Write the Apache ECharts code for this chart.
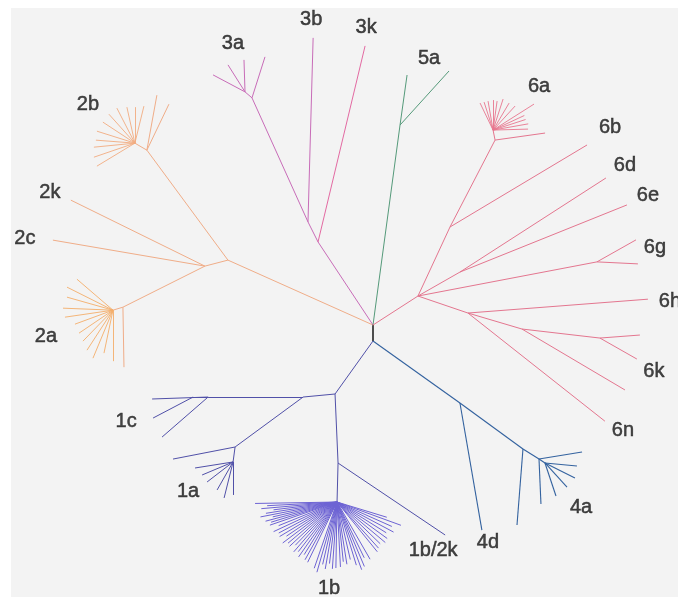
<!DOCTYPE html>
<html><head><meta charset="utf-8">
<script src="https://cdn.jsdelivr.net/npm/echarts@6/dist/echarts.min.js"></script>
<style>html,body{margin:0;padding:0;background:#fff}#c{width:678px;height:597px}</style>
</head><body><div id="c"></div>
<script>
// Unrooted tree. Each branch: [node, parent, branch length, direction in degrees (0 = east, 90 = north)]
const stem = [['T','B',16,90]];
const clade2 = [
 ['N2','T',158.9,155.9],['N2b','N2',136.6,126.4],['F2b','N2b',13.9,149.7],
 ['2b_u1','N2b',55.9,79.7],['2b_u2','N2b',51,64.4],
 ['N2ac','N2',23.8,194.6],['2k','N2ac',149.4,153.8],['2c','N2ac',154.2,170.3],
 ['N2a','N2ac',91.7,206.6],['F2a','N2a',10.4,196.7],['2a_v','N2a',60,271]
];
const fan2b = [
 ['2b_f1','F2b',38.1,76.3],['2b_f2','F2b',36,90],['2b_f3','F2b',36.9,102.5],['2b_f4','F2b',39.4,117.2],
 ['2b_f5','F2b',38.9,131.9],['2b_f6','F2b',38.3,146.7],['2b_f7','F2b',39.8,162.5],['2b_f8','F2b',39.1,175.6],
 ['2b_f9','F2b',41.2,185.6],['2b_f10','F2b',43.3,198.9],['2b_f11','F2b',44.4,211.2]
];
const fan2a = [
 ['2a_f1','F2a',47.5,139.3],['2a_f2','F2a',51.4,153.4],['2a_f3','F2a',47.8,164.2],['2a_f4','F2a',50,177.7],
 ['2a_f5','F2a',48.5,188.3],['2a_f6','F2a',40.5,200.2],['2a_f7','F2a',41,214.1],['2a_f8','F2a',43.1,225.9],
 ['2a_f9','F2a',47.7,237],['2a_f10','F2a',52,247.4],['2a_f11','F2a',43.9,258.2],['2a_f12','F2a',51,270]
];
const clade3 = [
 ['N3','T',99.6,123.5],['N3ab','N3',22.4,116.6],['3b','N3ab',184.1,88.4],
 ['N3a','N3ab',136.1,114.3],['3a_1','N3a',43,72.4],['N3a2','N3a',9.2,139.4],
 ['3a_2','N3a2',36.2,152],['3a_3','N3a2',31.9,122.2],['3a_4','N3a2',32,91.8]
];
const branch3k = [['3k','N3',201.6,76.5]];
const clade5 = [['N5','T',201.8,82.3],['5a_1','N5',50.5,82],['5a_2','N5',72.9,47.8]];
const clade6 = [
 ['N6','T',53.5,32.8],['N6ab','N6',76.1,65.1],['6b','N6ab',159.7,30.9],
 ['N6a','N6ab',97.9,62.6],['6a_1','N6a',50.5,8],['F6a','N6a',10.2,101.3],
 ['N6de','N6',48.4,29.7],['6d','N6de',173.6,32.8],['6e','N6de',179.9,21.9],
 ['N6g','N6',182.2,10.8],['6g_1','N6g',44.8,29.4],['6g_2','N6g',41,357.2],
 ['N6h','N6',52.8,341.2],['6h','N6h',180.5,4.4],['N6kx','N6h',56.3,343.5],
 ['N6k','N6kx',78.5,353.4],['6k_1','N6k',40.1,4.3],['6k_2','N6k',42.5,330.4],
 ['6k_3','N6kx',119.7,329.4],['6n','N6h',174.5,321.7]
];
const fan6a = [
 ['6a_f1','F6a',30,115.7],['6a_f2','F6a',29.4,107.8],['6a_f3','F6a',29.4,99.8],['6a_f4','F6a',30,90],
 ['6a_f5','F6a',29.3,82.1],['6a_f6','F6a',32.6,72.1],['6a_f7','F6a',31.4,59.3],['6a_f8','F6a',32.6,47.5],
 ['6a_f9','F6a',48.5,32.4],['6a_f10','F6a',34.5,25],['6a_f11','F6a',34.2,18],['6a_f12','F6a',35.7,10],
 ['6a_f13','F6a',35,1.6]
];
const clade1 = [
 ['N1','B',65.2,234.4],['N1ca','N1',32.1,185.4],['N1c','N1ca',95,180],
 ['1c_1','N1c',56,182],['1c_2','N1c',61,221],['N1c2','N1c',15,180],['1c_3','N1c2',45.2,207.7],
 ['N1a','N1ca',84.4,216.3],['1a_1','N1a',63.2,191],['F1a','N1a',15.1,262.4],['1a_v','F1a',33,270],
 ['1a_f1','F1a',38.5,189],['1a_f2','F1a',33.6,202.8],['1a_f3','F1a',32.8,217.6],
 ['1a_f4','F1a',32.2,240.3],['1a_f5','F1a',37.1,256],
 ['N1b','N1',69.1,272.5],['1b2k','N1b',129,326.1],['F1b','N1b',39,268.5]
];
// 1b fan: [branch length, direction]
const fan1b = [
 [82,181],[70,183],[76,185],[64,187],[72,189],[78,191],[66,193],[74,195],[69,197],[71,199],
 [63,202],[70,205],[66,208],[67,211],[61,214],[68,217],[64,220],[65,223],[60,226],[66,229],
 [63,232],[67,235],[62,238],[66,241],[67,244],[70,251],[73,254],[64,257],[68,260],[62,263],
 [67,266],[66,269],[65,273],[60,276],[63,279],[59,283],[66,287],[72,290],[70,293],[62,296],
 [66,300],[64,309],[62,312],[60,316],[63,320],[62,324],[58,328],[64,332],[60,336],[68,340],[52,343]
];
const clade4 = [
 ['N4d','B',106.8,324.5],['4d','N4d',128.9,279.8],['N4x','N4d',78,323.9],['4x_1','N4x',76.2,265.5],
 ['N4a','N4x',18.9,328],['4a_1','N4a',43.6,9.2],['4a_2','N4a',45,272.5],['F4a','N4a',7.2,326.3],
 ['4a_f1','F4a',32.1,354.6],['4a_f2','F4a',33.5,333.4],['4a_f3','F4a',32.6,312.5],['4a_f4','F4a',34.8,288.4]
];
const labelTexts   = ['3b','3k','3a','5a','2b','6a','6b','6d','6e','2k','2c','6g','6h','2a','6k','1c','6n','1a','4a','1b/2k','4d','1b'];
const labelAnchors = ['3b','3k','N3a','5a_2','N2b','N6a','6b','6d','6e','2k','2c','N6g','6h','N2a','N6k','N1c','6n','F1a','N4a','1b2k','4d','F1b'];

// ---- layout / style (not data) ----
const rootPos = [373, 341];
const labelOffsets = {
 '3b':[-2,-18],'3k':[1,-18],'3a':[-19,-54],'5a':[-20,-13],'2b':[-59,-46],'6a':[44,-54],'6b':[23,-17],
 '6d':[19,-13],'6e':[21,-9],'2k':[-21,-8],'2c':[-28,-2],'6g':[58,-14],'6h':[22,2],'2a':[-77,29],
 '6k':[54,33],'1c':[-82,24],'6n':[18,9],'1a':[-45,30],'4a':[42,48],'1b/2k':[-12,15],'4d':[6,12],'1b':[-8,86]
};
const groups = [
 [stem,'#222222',1.6],[clade2,'#f0ad88',1],[fan2b,'#f2ac80',0.9],[fan2a,'#f4ae6a',0.9],
 [clade3,'#c86cb8',1],[branch3k,'#e36aa2',1],[clade5,'#559a7a',1],[clade6,'#e4768f',1],
 [fan6a,'#e8768e',0.9],[clade1,'#5050a8',1],[clade4,'#33629f',1.1]
];
const fan1bColor = '#6d63d4';

const pos = {B: rootPos.slice()};
function place(list){
 list.forEach(([n,p,len,ang])=>{
  const a = ang*Math.PI/180, q = pos[p];
  pos[n] = [q[0] + len*Math.cos(a), q[1] - len*Math.sin(a)];
 });
}
const lineData = [];
groups.forEach(([list,color,w])=>{
 place(list);
 list.forEach(([n,p])=>lineData.push({coords:[pos[p],pos[n]],lineStyle:{color:color,width:w}}));
});
fan1b.forEach(([len,ang],i)=>{
 const id='1b_f'+i; place([[id,'F1b',len,ang]]);
 lineData.push({coords:[pos['F1b'],pos[id]],lineStyle:{color:fan1bColor,width:1}});
});
const labelData = labelTexts.map((t,i)=>{
 const q = pos[labelAnchors[i]], o = labelOffsets[t];
 return {name:t, value:[q[0]+o[0], q[1]+o[1]]};
});

const chart = echarts.init(document.getElementById('c'), null, {renderer:'canvas'});
chart.setOption({
 backgroundColor:'#ffffff',
 animation:false,
 graphic:[{type:'rect',shape:{x:11,y:8,width:667,height:589},style:{fill:'#f3f3f3'},z:-10,silent:true}],
 grid:{left:0,right:0,top:0,bottom:0},
 xAxis:{type:'value',min:0,max:678,show:false},
 yAxis:{type:'value',min:0,max:597,inverse:true,show:false},
 series:[
  {type:'lines',coordinateSystem:'cartesian2d',data:lineData,silent:true,lineStyle:{opacity:1,curveness:0}},
  {type:'scatter',data:labelData,symbolSize:1,itemStyle:{color:'rgba(0,0,0,0)'},silent:true,
   label:{show:true,position:'inside',formatter:'{b}',color:'#161616',fontSize:20,
    textBorderColor:'#161616',textBorderWidth:0.5,
    fontFamily:'Liberation Sans, Arial, sans-serif',align:'center',verticalAlign:'middle'}}
 ]
});
</script></body></html>
